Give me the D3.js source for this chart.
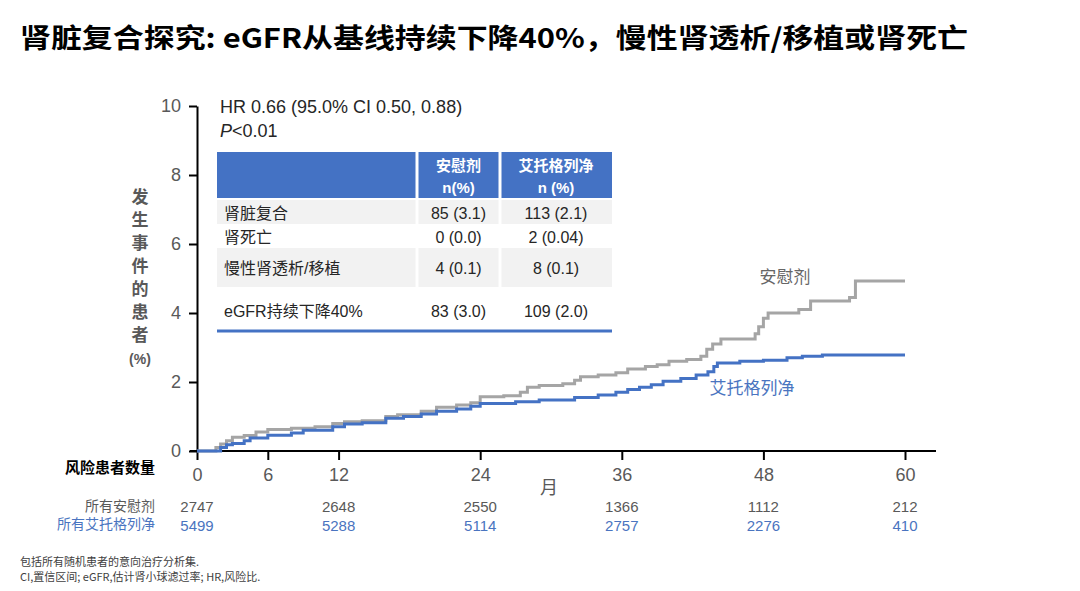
<!DOCTYPE html>
<html>
<head>
<meta charset="utf-8">
<script src="https://cdn.jsdelivr.net/npm/d3@7"></script>
<style>
  body { margin: 0; background: #fff; }
  svg { display: block; font-family: "Liberation Sans", "Noto Sans CJK SC", sans-serif; }
</style>
</head>
<body>
<div id="chart"></div>
<script>
// cumulative incidence (%) by month
var placebo = [
  [0,0],[1.3,0],[1.6,0.1],[2.0,0.2],[2.5,0.3],[3,0.4],[4,0.45],[5,0.55],[6,0.62],[8,0.66],
  [10,0.7],[11.5,0.8],[12.5,0.85],[14,0.88],[16,1.0],[17,1.05],[19,1.15],[20.3,1.27],[22,1.33],
  [23.2,1.4],[24,1.57],[26,1.6],[27.4,1.7],[28,1.85],[29,1.9],[31,1.95],[32,2.05],[32.5,2.15],
  [34,2.2],[35.5,2.27],[36.5,2.38],[38,2.45],[39,2.5],[40,2.6],[41.5,2.65],[42.7,2.75],
  [43.2,2.95],[43.7,3.1],[44.4,3.25],[47.3,3.4],[47.6,3.6],[48,3.85],[48.4,4.0],[51,4.1],
  [52,4.35],[55.3,4.45],[55.8,4.93],[60,4.93]
];
var ertu = [
  [0,0],[1.5,0],[2,0.1],[2.5,0.18],[3,0.22],[4,0.3],[4.5,0.38],[6,0.46],[8,0.52],[9,0.6],
  [11.5,0.7],[12.5,0.78],[14,0.82],[16,0.95],[17.5,1.0],[19,1.07],[20.3,1.15],[22,1.22],
  [23.2,1.3],[24,1.38],[27,1.43],[29,1.48],[32,1.55],[34,1.62],[35.5,1.7],[36.5,1.78],
  [37.5,1.85],[38.5,1.92],[39.5,2.02],[41,2.1],[42.3,2.2],[43.3,2.3],[43.8,2.45],[44.1,2.55],
  [46,2.6],[48,2.63],[50,2.7],[51.3,2.75],[53,2.78],[60,2.78]
];

var xTicks = [0, 6, 12, 24, 36, 48, 60];
var yTicks = [0, 2, 4, 6, 8, 10];
var riskMonths = [0, 12, 24, 36, 48, 60];
var riskPlacebo = [2747, 2648, 2550, 1366, 1112, 212];
var riskErtu = [5499, 5288, 5114, 2757, 2276, 410];

var tableHead = ["安慰剂|n(%)", "艾托格列净|n (%)"];
var tableRows = ["肾脏复合", "肾死亡", "慢性肾透析/移植", "eGFR持续下降40%"];
var tablePlacebo = ["85 (3.1)", "0 (0.0)", "4 (0.1)", "83 (3.0)"];
var tableErtu = ["113 (2.1)", "2 (0.04)", "8 (0.1)", "109 (2.0)"];

var W = 1080, H = 591;
var grayC = "#a5a5a5", blueC = "#4472c4", textC = "#595959";

var svg = d3.select("#chart").append("svg").attr("width", W).attr("height", H);

// title
svg.append("text")
  .attr("x", 20).attr("y", 48)
  .attr("font-family", "'Noto Sans CJK SC', sans-serif")
  .attr("font-weight", "bold").attr("font-size", 27)
  .attr("textLength", 948).attr("lengthAdjust", "spacingAndGlyphs")
  .attr("fill", "#000")
  .text("肾脏复合探究: eGFR从基线持续下降40%，慢性肾透析/移植或肾死亡");

var x = d3.scaleLinear().domain([0, 60]).range([197, 905]);
var y = d3.scaleLinear().domain([0, 10]).range([451, 106]);

// y axis
var yAx = svg.append("g").attr("transform", "translate(197,0)")
  .call(d3.axisLeft(y).tickValues(yTicks).tickSize(8).tickPadding(8).tickSizeOuter(0));
yAx.select(".domain").attr("stroke", "#000").attr("stroke-width", 2);
yAx.selectAll(".tick line").attr("stroke", "#000").attr("stroke-width", 2);
yAx.selectAll(".tick text").attr("fill", textC).attr("font-size", 18)
  .attr("font-family", "'Liberation Sans', sans-serif");

// x axis
var xAx = svg.append("g").attr("transform", "translate(0,451)")
  .call(d3.axisBottom(x).tickValues(xTicks).tickSize(9).tickPadding(8).tickSizeOuter(0));
xAx.select(".domain").attr("d", "M190,0H936").attr("stroke", "#000").attr("stroke-width", 2);
xAx.selectAll(".tick line").attr("stroke", "#000").attr("stroke-width", 2);
xAx.selectAll(".tick text").attr("fill", textC).attr("font-size", 18)
  .attr("font-family", "'Liberation Sans', sans-serif");

svg.append("text").attr("x", 549).attr("y", 494).attr("text-anchor", "middle")
  .attr("font-family", "'Noto Sans CJK SC', sans-serif")
  .attr("font-size", 18).attr("fill", textC).text("月");

// y title, vertical
var yTitle = ["发", "生", "事", "件", "的", "患", "者"];
svg.append("g").selectAll("text").data(yTitle).enter().append("text")
  .attr("x", 140).attr("y", function(d, i) { return 203 + i * 23; })
  .attr("text-anchor", "middle")
  .attr("font-family", "'Noto Sans CJK SC', sans-serif")
  .attr("font-weight", "bold").attr("font-size", 17).attr("fill", textC)
  .text(function(d) { return d; });
svg.append("text").attr("x", 140).attr("y", 364).attr("text-anchor", "middle")
  .attr("font-weight", "bold").attr("font-size", 14).attr("fill", textC).text("(%)");

// curves
var line = d3.line()
  .x(function(d) { return x(d[0]); })
  .y(function(d) { return y(d[1]); })
  .curve(d3.curveStepAfter);

svg.append("path").datum(placebo).attr("d", line)
  .attr("fill", "none").attr("stroke", grayC).attr("stroke-width", 3);
svg.append("path").datum(ertu).attr("d", line)
  .attr("fill", "none").attr("stroke", blueC).attr("stroke-width", 3);

svg.append("text").attr("x", 785).attr("y", 283).attr("text-anchor", "middle")
  .attr("font-family", "'Noto Sans CJK SC', sans-serif")
  .attr("font-size", 17).attr("fill", "#666").text("安慰剂");
svg.append("text").attr("x", 752).attr("y", 394).attr("text-anchor", "middle")
  .attr("font-family", "'Noto Sans CJK SC', sans-serif")
  .attr("font-size", 17).attr("fill", "#4a74c0").text("艾托格列净");

// HR text
svg.append("text").attr("x", 220).attr("y", 113)
  .attr("font-size", 18).attr("fill", "#262626")
  .text("HR 0.66 (95.0% CI 0.50, 0.88)");
var pt = svg.append("text").attr("x", 220).attr("y", 137)
  .attr("font-size", 18).attr("fill", "#262626");
pt.append("tspan").attr("font-style", "italic").text("P");
pt.append("tspan").text("<0.01");

// table
var colX = [217, 417, 500, 612];
var tbl = svg.append("g").attr("font-family", "'Liberation Sans', 'Noto Sans CJK SC', sans-serif");
tbl.selectAll("rect.hd").data([0, 1, 2]).enter().append("rect")
  .attr("x", function(i) { return colX[i] + (i ? 1.5 : 0); })
  .attr("y", 152)
  .attr("width", function(i) { return colX[i + 1] - colX[i] - (i ? 1.5 : 0) - (i < 2 ? 1.5 : 0); })
  .attr("height", 46).attr("fill", blueC);
tableHead.forEach(function(h, i) {
  var parts = h.split("|");
  var cx = (colX[i + 1] + colX[i + 2]) / 2;
  tbl.append("text").attr("x", cx).attr("y", 171).attr("text-anchor", "middle")
    .attr("font-family", "'Noto Sans CJK SC', sans-serif")
    .attr("font-weight", "bold").attr("font-size", 15).attr("fill", "#fff").text(parts[0]);
  tbl.append("text").attr("x", cx).attr("y", 193).attr("text-anchor", "middle")
    .attr("font-weight", "bold").attr("font-size", 15).attr("fill", "#fff").text(parts[1]);
});
var rowTop = [200, 225, 248, 288, 326];
tableRows.forEach(function(r, j) {
  if (j % 2 === 0) {
    [0, 1, 2].forEach(function(i) {
      tbl.append("rect")
        .attr("x", colX[i] + (i ? 1.5 : 0)).attr("y", rowTop[j])
        .attr("width", colX[i + 1] - colX[i] - (i ? 1.5 : 0) - (i < 2 ? 1.5 : 0))
        .attr("height", rowTop[j + 1] - rowTop[j] - 1).attr("fill", "#f2f2f2");
    });
  }
  var cy = (rowTop[j] + rowTop[j + 1]) / 2 + 6;
  if (j === 3) cy = 317;
  tbl.append("text").attr("x", 224).attr("y", cy)
    .attr("font-size", 16).attr("fill", "#262626").text(r);
  tbl.append("text").attr("x", (colX[1] + colX[2]) / 2).attr("y", cy).attr("text-anchor", "middle")
    .attr("font-size", 16).attr("fill", "#262626").text(tablePlacebo[j]);
  tbl.append("text").attr("x", (colX[2] + colX[3]) / 2).attr("y", cy).attr("text-anchor", "middle")
    .attr("font-size", 16).attr("fill", "#262626").text(tableErtu[j]);
});
tbl.append("line").attr("x1", 217).attr("x2", 612).attr("y1", 331).attr("y2", 331)
  .attr("stroke", blueC).attr("stroke-width", 3);

// risk table
svg.append("text").attr("x", 155).attr("y", 473).attr("text-anchor", "end")
  .attr("font-family", "'Noto Sans CJK SC', sans-serif")
  .attr("font-weight", "bold").attr("font-size", 15).attr("fill", "#000").text("风险患者数量");
svg.append("text").attr("x", 155).attr("y", 511).attr("text-anchor", "end")
  .attr("font-family", "'Noto Sans CJK SC', sans-serif")
  .attr("font-size", 14).attr("fill", textC).text("所有安慰剂");
svg.append("text").attr("x", 155).attr("y", 529).attr("text-anchor", "end")
  .attr("font-family", "'Noto Sans CJK SC', sans-serif")
  .attr("font-size", 14).attr("fill", "#4a74c0").text("所有艾托格列净");

svg.append("g").selectAll("text").data(riskPlacebo).enter().append("text")
  .attr("x", function(d, i) { return x(riskMonths[i]); }).attr("y", 512)
  .attr("text-anchor", "middle").attr("font-size", 15).attr("fill", textC)
  .text(function(d) { return d; });
svg.append("g").selectAll("text").data(riskErtu).enter().append("text")
  .attr("x", function(d, i) { return x(riskMonths[i]); }).attr("y", 531)
  .attr("text-anchor", "middle").attr("font-size", 15).attr("fill", "#4a74c0")
  .text(function(d) { return d; });

// footnotes
var notes = ["包括所有随机患者的意向治疗分析集.", "CI,置信区间; eGFR,估计肾小球滤过率; HR,风险比."];
svg.append("g").selectAll("text").data(notes).enter().append("text")
  .attr("x", 20).attr("y", function(d, i) { return 566 + i * 15; })
  .attr("font-family", "'Noto Sans CJK SC', sans-serif")
  .attr("font-size", 11).attr("fill", "#404040")
  .text(function(d) { return d; });
</script>
</body>
</html>
